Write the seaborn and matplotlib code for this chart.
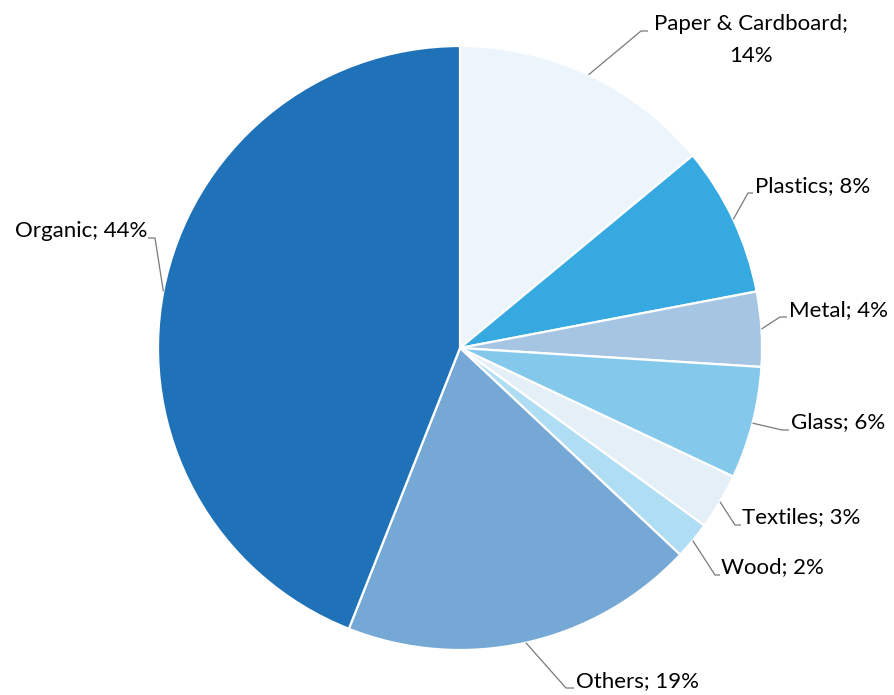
import numpy as np
import matplotlib
matplotlib.use("Agg")
import matplotlib.pyplot as plt
import seaborn as sns

# Municipal solid waste composition (share of total, %)
categories = ["Paper & Cardboard", "Plastics", "Metal", "Glass",
              "Textiles", "Wood", "Others", "Organic"]
shares = [14, 8, 4, 6, 3, 2, 19, 44]
label_texts = ["Paper & Cardboard;\n14%", "Plastics; 8%", "Metal; 4%", "Glass; 6%",
               "Textiles; 3%", "Wood; 2%", "Others; 19%", "Organic; 44%"]

colors = ["#EBF5FB", "#36A9E1", "#A5C5E2", "#84C8EC",
          "#E5EFF7", "#AFDDF3", "#75A8D5", "#1F71B8"]

sns.set_theme(style="white")
plt.rcParams["font.family"] = ["Lato", "DejaVu Sans"]

W, H = 895, 695
fig = plt.figure(figsize=(W / 100, H / 100), dpi=100)
ax = fig.add_axes([0, 0, 1, 1])

cx, cy, R = 460, H - 348, 302
wedges, _ = ax.pie(shares, colors=colors, startangle=90, counterclock=False,
                   center=(cx, cy), radius=R, frame=True,
                   wedgeprops=dict(edgecolor="white", linewidth=1.6))
ax.set_xlim(0, W)
ax.set_ylim(0, H)
ax.set_aspect("equal")
ax.axis("off")

# label placement: (elbow x, elbow y, stub end x, text x, text y, ha)  in pixel coords from top
layout = [
    (641, 31, 648, 751, 40, "center"),
    (748, 193, 753, 755, 186, "left"),
    (780, 317, 787, 789, 310, "left"),
    (782, 430, 789, 791, 422, "left"),
    (735, 525, 741, 742, 517, "left"),
    (715, 575, 720, 721, 567, "left"),
    (566, 688, 574, 576, 681, "left"),
    (155, 238, 148, 147, 231, "right"),
]

line_kw = dict(color="#7A7A7A", lw=0.9, solid_capstyle="butt")
for w, txt, (ex, ey, sx, tx, ty, ha) in zip(wedges, label_texts, layout):
    mid = np.deg2rad((w.theta1 + w.theta2) / 2)
    px, py = cx + R * np.cos(mid), cy + R * np.sin(mid)
    ax.plot([px, ex, sx], [py, H - ey, H - ey], **line_kw)
    ax.text(tx, H - ty, txt, ha=ha, va="center", fontsize=16,
            color="black", linespacing=1.7)

fig.savefig("out.png", dpi=100, facecolor="white")
